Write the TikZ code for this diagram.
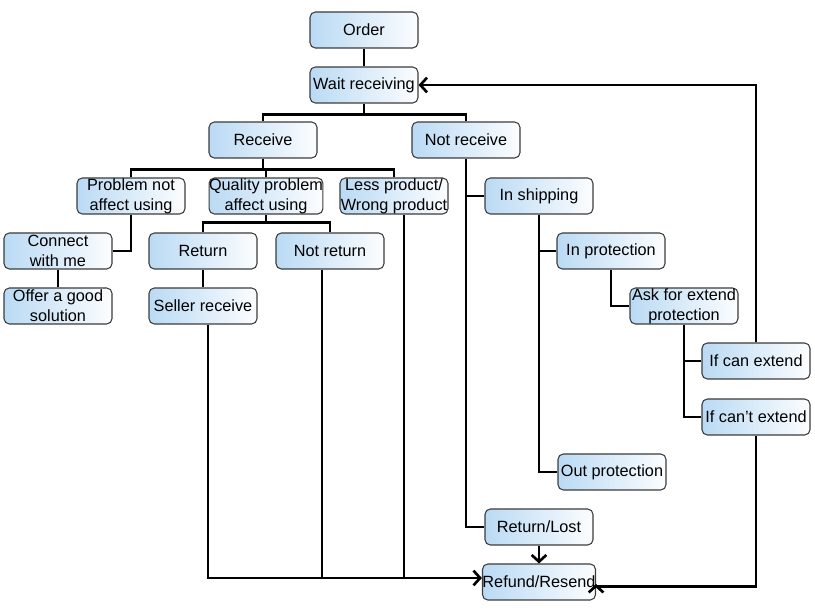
\documentclass[tikz,border=0pt]{standalone}
\usepackage{fontspec}
\setmainfont{Liberation Sans}
\usepackage{tikz}
\usetikzlibrary{arrows.meta,positioning}
\definecolor{boxblue}{RGB}{186,218,244}
\definecolor{boxline}{RGB}{60,60,60}
\tikzset{
  flowbox/.style={draw=boxline, line width=0.8pt, rounded corners=4pt, align=center,
                  left color=boxblue, right color=white!95!boxblue,
                  minimum width=81pt, minimum height=27pt, inner sep=0pt,
                  font=\fontsize{12.2}{15}\selectfont},
  link/.style={line width=2pt},
  flowarrow/.style={line width=2pt, -{Straight Barb[length=5pt,width=11pt,line width=2pt]}}
}
\begin{document}
\begin{tikzpicture}[x=0.75pt, y=-0.75pt]
  \useasboundingbox (0,0) rectangle (815,616);
  % main nodes
  \node[flowbox] (order) at (364,30) {Order};
  \node[flowbox] (wait) at (364,85) {Wait receiving};
  \node[flowbox] (recv) at (263,140) {Receive};
  \node[flowbox] (nrecv) at (466,140) {Not receive};
  % receive branch
  \node[flowbox] (pna) at (131,196) {Problem not\\affect using};
  \node[flowbox] (qpa) at (266,196) {Quality problem\\affect using};
  \node[flowbox] (lpw) at (394,196) {Less product/\\Wrong product};
  \node[flowbox] (conn) at (58,251) {Connect\\with me};
  \node[flowbox] (offer) at (58,306) {Offer a good\\solution};
  \node[flowbox] (ret) at (203,251) {Return};
  \node[flowbox] (nret) at (330,251) {Not return};
  \node[flowbox] (seller) at (203,306) {Seller receive};
  % not receive branch
  \node[flowbox] (ship) at (539,196) {In shipping};
  \node[flowbox] (inp) at (611,251) {In protection};
  \node[flowbox] (ask) at (684,306) {Ask for extend\\protection};
  \node[flowbox] (can) at (756,361) {If can extend};
  \node[flowbox] (cant) at (756,417) {If can't extend};
  \node[flowbox] (outp) at (612,472) {Out protection};
  \node[flowbox] (rlost) at (539,527) {Return/Lost};
  \node[flowbox] (refund) at (539,582) {Refund/Resend};

  \draw[link] (order) -- (wait);
  \draw[link] (wait.south) -- ++(0,11) coordinate (b1);
  \draw[link] (recv.north) |- (b1) -| (nrecv.north);
  \draw[link] (recv.south) -- ++(0,11) coordinate (b2);
  \draw[link] (pna.north) |- (b2) -| (lpw.north);
  \draw[link] (qpa.north) -- (qpa.north |- b2);
  \draw[link] (pna.south) |- (conn.east);
  \draw[link] (conn) -- (offer);
  \draw[link] (qpa.south) -- ++(0,8) coordinate (b3);
  \draw[link] (ret.north) |- (b3) -| (nret.north);
  \draw[link] (ret) -- (seller);
  % into refund
  \coordinate (bus) at ([yshift=3pt]refund.west);
  \draw[flowarrow] ([xshift=3.75pt]seller.south) |- (bus);
  \draw[link] ([xshift=-6pt]nret.south) -- ([xshift=-6pt]nret.south |- bus);
  \draw[link] ([xshift=7.5pt]lpw.south) -- ([xshift=7.5pt]lpw.south |- bus);
  \draw[link] (nrecv.south) |- (rlost.west);
  \draw[link] (nrecv.south |- ship.west) -- (ship.west);
  \draw[link] (ship.south) |- (outp.west);
  \draw[link] (ship.south |- inp.west) -- (inp.west);
  \draw[link] (inp.south) |- (ask.west);
  \draw[link] (ask.south) |- (cant.west);
  \draw[link] (ask.south |- can.west) -- (can.west);
  \draw[flowarrow] (can.north) |- (wait.east);
  \draw[flowarrow] (cant.south) -- ++(0,151) -| ([yshift=-1.5pt]refund.east);
  \draw[flowarrow] (rlost) -- (refund);
\end{tikzpicture}
\end{document}
